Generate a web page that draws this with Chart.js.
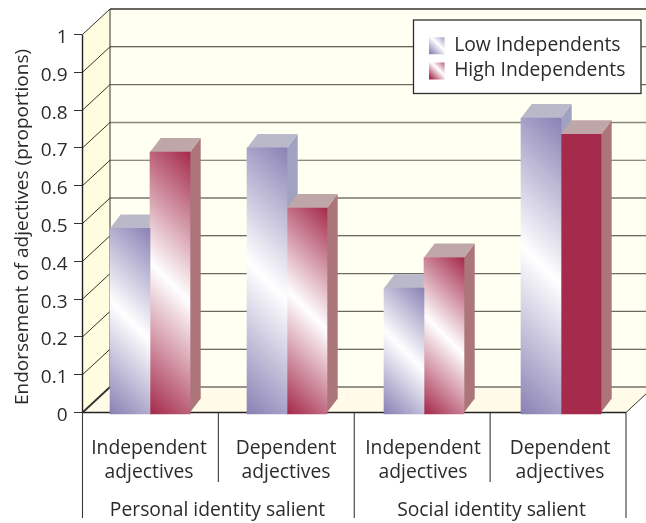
<!DOCTYPE html>
<html>
<head>
<meta charset="utf-8">
<style>
  html, body { margin: 0; padding: 0; background: #fff; }
  canvas { display: block; }
</style>
<script src="https://cdn.jsdelivr.net/npm/chart.js@4"></script>
</head>
<body>
<canvas id="chart" width="646" height="523"></canvas>
<script>
const categories = [
  ["Independent", "adjectives"],
  ["Dependent", "adjectives"],
  ["Independent", "adjectives"],
  ["Dependent", "adjectives"]
];
const groupLabels = ["Personal identity salient", "Social identity salient"];
const lowIndependents = [0.487, 0.70, 0.329, 0.779];
const highIndependents = [0.689, 0.541, 0.41, 0.736];
const yTickLabels = ["0", "0.1", "0.2", "0.3", "0.4", "0.5", "0.6", "0.7", "0.8", "0.9", "1"];
const solidHigh = [false, false, false, true]; // last red bar has no sheen

const FONT = "'Open Sans'";
const TEXT = "#2b2b2b";
const WALL_DX = 27.5, WALL_DY = -25.5; // depth of the box
const BAR_DX = 10.7, BAR_DY = -14;     // depth of each bar
const BAR_W = 40;

// back wall rules, from the floor up
const gridShades = ["#2f2f2a", "#3c3c36", "#6a6a62", "#6a6a62", "#3a3a34", "#33332e", "#66665c", "#85857a", "#6b6b62", "#33332e"];

const BLUE = { dark: "#8a82b5", side: "#a1a1c1", top: "#b9b9c9" };
const RED = { dark: "#a52a4b", side: "#ab7579", top: "#bfa6a8" };

function sheen(ctx, x, y, w, h, dark) {
  const r = (w + h) / 4;
  const g = ctx.createLinearGradient(x + w / 2 - r, y + h / 2 + r, x + w / 2 + r, y + h / 2 - r);
  g.addColorStop(0, dark);
  g.addColorStop(0.5, "#ffffff");
  g.addColorStop(1, dark);
  return g;
}

// front face colour, gradient is worked out per bar
function barFill(side, values, colors, solid) {
  return function (c) {
    const scales = c.chart.scales;
    if (solid && solid[c.dataIndex]) return colors.dark;
    const left = scales.x.getPixelForTick(c.dataIndex) + (side < 0 ? -BAR_W : 0);
    const top = scales.y.getPixelForValue(values[c.dataIndex]);
    return sheen(c.chart.ctx, left, top, BAR_W, scales.y.getPixelForValue(0) - top, colors.dark);
  };
}

function poly(ctx, pts, fill) {
  ctx.beginPath();
  pts.forEach((p, i) => i ? ctx.lineTo(p[0], p[1]) : ctx.moveTo(p[0], p[1]));
  ctx.closePath();
  ctx.fillStyle = fill;
  ctx.fill();
}

function line(ctx, x1, y1, x2, y2, color, width) {
  ctx.beginPath();
  ctx.moveTo(x1, y1);
  ctx.lineTo(x2, y2);
  ctx.strokeStyle = color;
  ctx.lineWidth = width;
  ctx.stroke();
}

// shifts what a scale method draws down by dy
function nudge(chart, scale, method, dy) {
  const draw = scale[method];
  scale[method] = function (area) {
    chart.ctx.save();
    chart.ctx.translate(0, dy);
    draw.call(scale, area);
    chart.ctx.restore();
  };
}

const legendBox = { left: 413.5, top: 20, right: 641, bottom: 93.5 };
const frameLeft = 82.5, frameRight = 626;

// walls, floor, gridlines and the frame under the x labels
const boxPlugin = {
  id: "box3d",
  beforeDraw(chart) {
    const { ctx, chartArea: a, scales } = chart;
    const fl = frameLeft, fr = frameRight;
    const bx = fl + WALL_DX, tb = a.top + WALL_DY, bb = a.bottom + WALL_DY;
    const rx = fr + WALL_DX;
    ctx.save();
    poly(ctx, [[bx, tb], [rx, tb], [rx, bb], [bx, bb]], "#fffff2");
    poly(ctx, [[fl, a.top], [bx, tb], [bx, bb], [fl, a.bottom]], "#fffcdf");
    poly(ctx, [[fl, a.bottom], [bx, bb], [rx, bb], [fr, a.bottom]], "#fffbe8");

    scales.y.ticks.forEach((t, i) => {
      const y = scales.y.getPixelForValue(t.value);
      line(ctx, fl, y, bx, y + WALL_DY, "#33332e", i === 0 ? 1.8 : 1);
      if (i < gridShades.length) {
        line(ctx, bx, y + WALL_DY, rx, y + WALL_DY, gridShades[i], i === 7 ? 1.5 : 1.1);
      }
    });
    line(ctx, bx, tb, rx, tb, "#33332e", 1.4);
    line(ctx, bx, tb, bx, bb, "#33332e", 1);
    line(ctx, fl, a.top, fl, a.bottom, "#222", 1.4);
    line(ctx, fl, a.bottom, fr, a.bottom, "#222", 1.4);
    line(ctx, fr, a.bottom, rx, bb, "#33332e", 1);

    // separators below the floor
    [0, 1, 2, 3, 4].forEach(i => {
      const x = fl + (fr - fl) * i / 4;
      line(ctx, x, a.bottom, x, i % 2 ? 482 : 518, "#3a3a3a", 1.1);
    });

    // legend frame
    const l = legendBox;
    ctx.fillStyle = "#fff";
    ctx.fillRect(l.left, l.top, l.right - l.left, l.bottom - l.top);
    ctx.strokeStyle = "#2e2e2e";
    ctx.lineWidth = 1.3;
    ctx.strokeRect(l.left, l.top, l.right - l.left, l.bottom - l.top);
    ctx.restore();
  },
  // depth faces go under all front faces: low series first, then high
  beforeDatasetsDraw(chart) {
    const { ctx } = chart;
    const baseY = chart.scales.y.getPixelForValue(0);
    ctx.save();
    [BLUE, RED].forEach((colors, i) => {
      chart.getDatasetMeta(i).data.forEach(bar => {
        const l = bar.x - bar.width / 2, r = bar.x + bar.width / 2, t = bar.y;
        poly(ctx, [[r, t], [r + BAR_DX, t + BAR_DY], [r + BAR_DX, baseY + BAR_DY], [r, baseY]], colors.side);
        poly(ctx, [[l, t], [l + BAR_DX, t + BAR_DY], [r + BAR_DX, t + BAR_DY], [r, t]], colors.top);
      });
    });
    ctx.restore();
  },
  afterLayout(chart) {
    const lg = chart.legend;
    lg.left = 423;
    lg.right = legendBox.right;
    lg.top = 30;
    lg.bottom = legendBox.bottom;

    // digits sit high on the canvas middle baseline, axis title sits low
    const y = chart.scales.y;
    if (!y._nudged) {
      nudge(chart, y, "drawLabels", 3);
      nudge(chart, y, "drawTitle", 3.5);
      y._nudged = true;
    }
  }
};

const canvas = document.getElementById("chart");

new Chart(canvas, {
  type: "bar",
  data: {
    labels: categories,
    datasets: [
      {
        label: "Low Independents",
        data: lowIndependents,
        barThickness: BAR_W,
        backgroundColor: barFill(-1, lowIndependents, BLUE),
        base: -0.004,
        clip: false
      },
      {
        label: "High Independents",
        data: highIndependents,
        barThickness: BAR_W,
        backgroundColor: barFill(1, highIndependents, RED, solidHigh),
        base: -0.004,
        clip: false
      }
    ]
  },
  plugins: [boxPlugin],
  options: {
    responsive: false,
    animation: false,
    layout: { padding: { top: 34.5, right: 16.5, left: 0, bottom: 0 } },
    scales: {
      x: {
        weight: 0,
        offset: true,
        grid: { display: false },
        border: { display: false },
        afterFit: s => { s.height = 73; },
        ticks: {
          autoSkip: false,
          maxRotation: 0,
          padding: 16,
          labelOffset: -1,
          color: TEXT,
          font: { family: FONT, size: 19.3, lineHeight: 24 / 19.3 }
        }
      },
      x2: {
        type: "category",
        position: "bottom",
        weight: 1,
        labels: groupLabels,
        offset: true,
        grid: { display: false },
        border: { display: false },
        afterFit: s => { s.height = 37.5; },
        ticks: {
          autoSkip: false,
          maxRotation: 0,
          padding: 5,
          labelOffset: -1,
          color: TEXT,
          font: { family: FONT, size: 19.3 }
        }
      },
      y: {
        min: 0,
        max: 1,
        afterFit: s => { s.width = 81.5; },
        grid: { drawOnChartArea: false, drawTicks: true, tickLength: 7.5, color: "#33332e" },
        border: { display: false },
        ticks: {
          stepSize: 0.1,
          padding: 6.5,
          color: TEXT,
          font: { family: FONT, size: 19 },
          callback: (v, i) => yTickLabels[i]
        },
        title: {
          display: true,
          text: "Endorsement of adjectives (proportions)",
          color: TEXT,
          padding: { top: 11.6, bottom: 0 },
          font: { family: FONT, size: 19 }
        }
      }
    },
    plugins: {
      tooltip: { enabled: false },
      legend: {
        position: "chartArea",
        align: "start",
        labels: {
          boxWidth: 15.5,
          boxHeight: 17,
          padding: 6,
          color: TEXT,
          font: { family: FONT, size: 19.3 },
          generateLabels: chart => {
            const c = chart.ctx;
            return chart.data.datasets.map((d, i) => ({
              text: d.label,
              fontColor: TEXT,
              lineWidth: 0,
              strokeStyle: "transparent",
              datasetIndex: i,
              fillStyle: sheen(c, 430, i ? 61 : 36, 17, 17, i ? RED.dark : BLUE.dark)
            }));
          }
        }
      }
    }
  }
});
</script>
</body>
</html>
